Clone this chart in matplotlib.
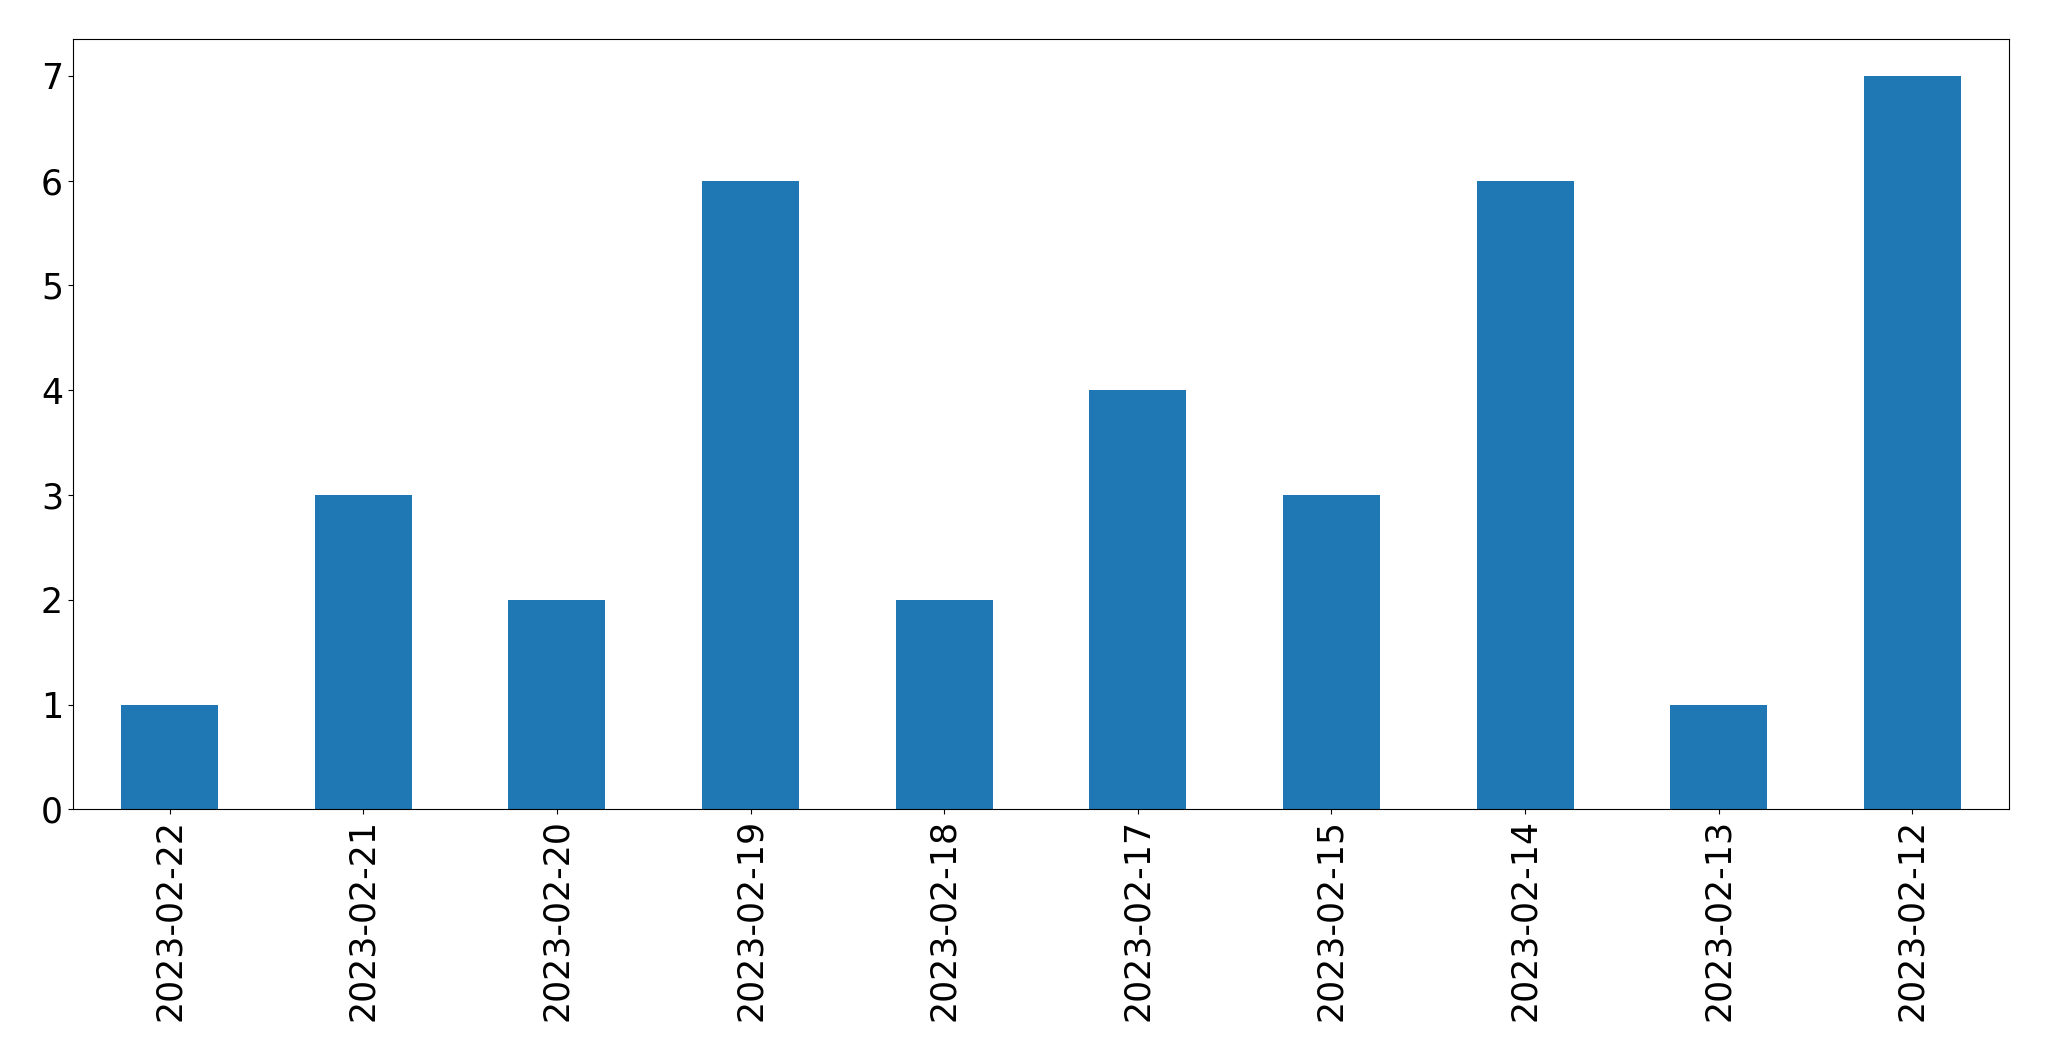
import matplotlib
matplotlib.use("Agg")
import matplotlib.pyplot as plt
import pandas as pd

dates = ["2023-02-22", "2023-02-21", "2023-02-20", "2023-02-19", "2023-02-18",
         "2023-02-17", "2023-02-15", "2023-02-14", "2023-02-13", "2023-02-12"]
counts = [1, 3, 2, 6, 2, 4, 3, 6, 1, 7]

s = pd.Series(counts, index=dates)

fig = plt.figure(figsize=(20.49, 10.61), dpi=100)
ax = fig.add_axes([0.0355, 0.2372, 0.9451, 0.7258])

s.plot(kind="bar", ax=ax, color="#1f77b4", fontsize=25)

plt.savefig("out.png", dpi=100)
plt.close()
